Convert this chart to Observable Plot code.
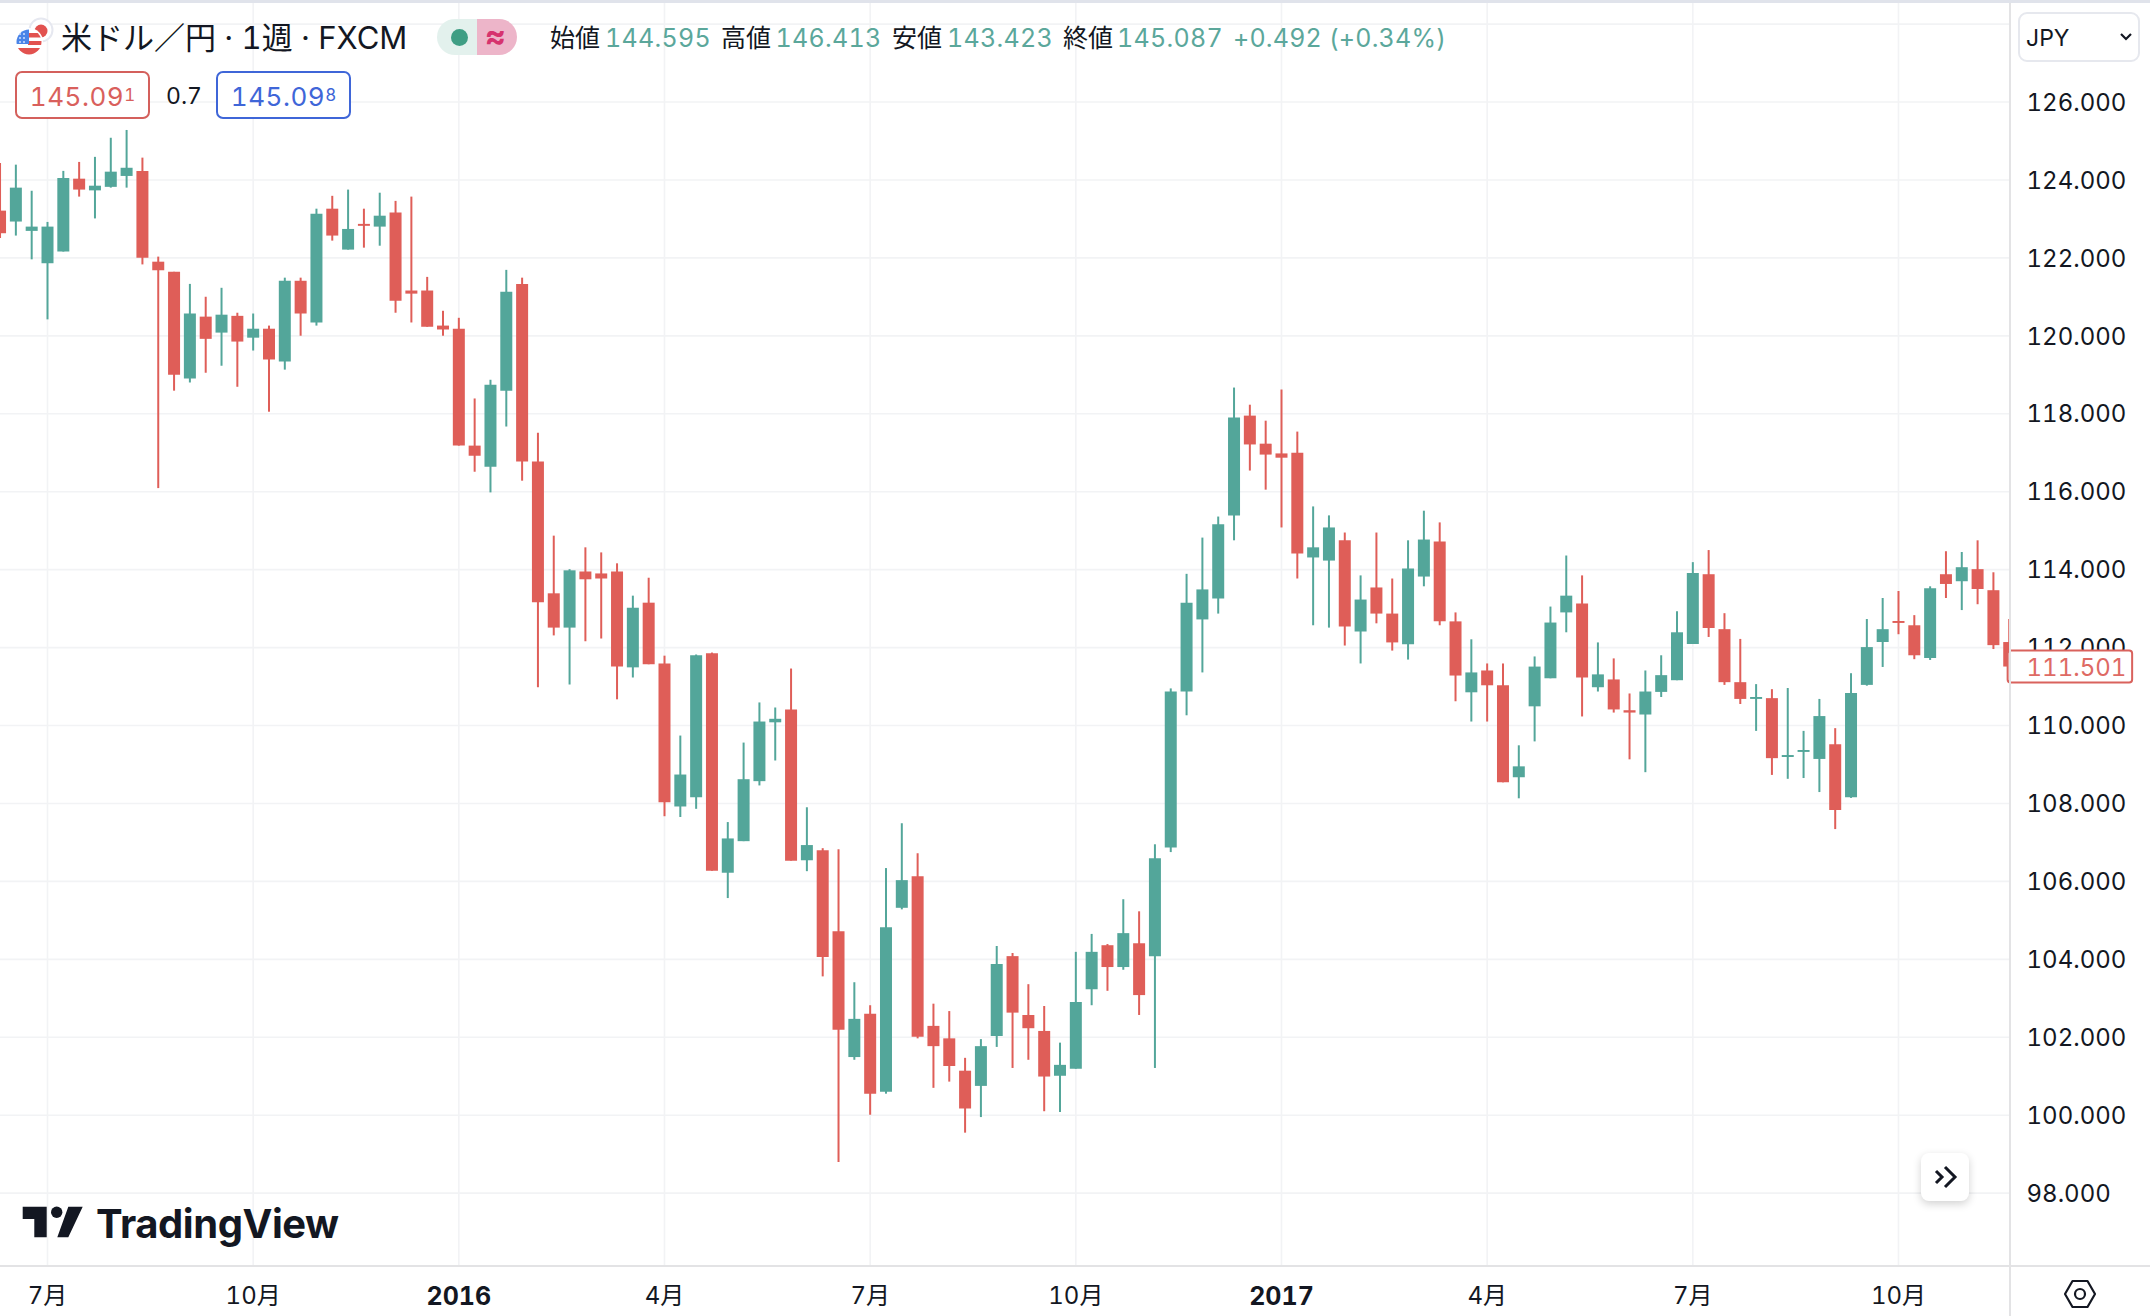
<!DOCTYPE html>
<html lang="ja">
<head>
<meta charset="utf-8">
<script src="https://cdn.jsdelivr.net/npm/d3@7"></script>
<script src="https://cdn.jsdelivr.net/npm/@observablehq/plot@0.6"></script>
<style>
html,body{margin:0;padding:0;background:#fff;width:2150px;height:1316px;overflow:hidden;font-family:Inter,"Noto Sans CJK JP",sans-serif;color:#131722;font-variant-numeric:tabular-nums}
#chart{position:absolute;left:0;top:0}
#chart svg text{font-variant-numeric:tabular-nums}
.a{position:absolute;white-space:nowrap;line-height:1}
.lab{font-size:25px;color:#131722}
.val{font-size:25px;color:#5ba79b;letter-spacing:.3px}
.chg{font-size:25px;color:#5ba79b;letter-spacing:.2px}
.box{position:absolute;box-sizing:border-box;background:#fff;border-radius:7px;border:2px solid;display:flex;align-items:center;justify-content:center;font-size:26px;letter-spacing:.5px;padding-top:2px}
.box sup{font-size:17px;line-height:0;position:relative;top:-1px;vertical-align:7px;letter-spacing:0}
</style>
</head>
<body>
<div id="chart"></div>
<script>
const tickIndex = [3, 16, 29, 42, 55, 68, 81, 94, 107, 120];
const tickLabel = ["7月", "10月", "2016", "4月", "7月", "10月", "2017", "4月", "7月", "10月"];
const priceTicks = [98, 100, 102, 104, 106, 108, 110, 112, 114, 116, 118, 120, 122, 124, 126];
const gridPrices = [...priceTicks, 128];
const lastPrice = 111.501;

const opens = [123.20,122.92,122.68,121.85,122.15,124.02,123.72,123.81,124.09,124.22,
121.89,121.63,118.89,120.48,120.07,120.50,119.94,120.17,119.33,121.40,
120.33,123.25,122.20,122.86,122.79,123.15,121.15,121.15,120.25,120.17,
117.17,116.63,118.58,121.32,116.76,113.38,112.50,113.94,113.89,113.94,
111.48,113.14,111.58,107.91,108.15,111.84,106.21,107.02,108.56,110.07,
110.40,106.53,106.79,104.71,101.48,102.59,100.59,105.31,106.12,102.28,
101.96,101.13,100.74,102.02,104.07,102.56,102.15,101.00,101.18,103.22,
104.35,103.79,104.40,104.07,106.86,110.86,112.71,113.25,115.38,117.94,
117.22,116.97,116.99,114.30,114.22,114.74,112.40,113.53,112.86,112.07,
113.81,114.71,112.66,110.84,111.40,111.02,108.66,110.48,111.20,112.89,
113.12,110.97,111.17,110.38,110.27,110.85,111.15,112.08,113.87,112.46,
111.10,110.67,110.69,109.18,109.31,109.13,109.51,108.15,111.03,112.13,
112.67,112.56,111.72,113.87,113.69,114.00,113.46,112.13];
const highs = [124.42,124.38,123.71,122.91,124.22,124.45,124.58,125.07,125.27,124.56,
122.02,121.63,121.32,120.99,121.22,120.58,120.56,120.25,121.48,121.48,
123.25,123.58,123.74,123.25,123.66,123.45,123.56,121.50,120.63,120.45,
118.38,118.86,121.68,121.48,117.50,114.86,114.00,114.56,114.43,114.15,
113.32,113.78,111.78,109.73,111.81,111.86,107.51,109.55,110.58,110.45,
111.45,107.89,106.84,106.81,103.40,102.81,106.33,107.48,106.71,102.85,
102.66,101.46,101.94,104.33,104.15,103.35,102.79,101.85,104.18,104.64,
104.38,105.53,105.22,106.94,110.94,113.88,114.81,115.35,118.66,118.22,
117.81,118.61,117.53,115.61,115.38,114.94,113.84,114.94,113.76,114.74,
115.50,115.20,112.89,112.20,111.58,111.58,109.48,111.76,113.04,114.35,
113.84,112.12,111.71,110.81,111.40,111.79,112.92,114.18,114.49,112.87,
112.21,111.05,110.92,110.95,109.85,110.67,109.92,111.33,112.72,113.26,
113.44,112.82,113.56,114.46,114.44,114.74,113.92,112.72];
const lows = [122.50,122.56,121.95,120.41,122.15,123.56,123.00,123.79,123.79,121.82,
116.08,118.58,118.79,119.04,119.22,118.68,119.61,118.04,119.12,119.99,
120.25,122.43,122.20,122.25,122.30,120.58,120.33,120.22,119.99,117.17,
116.50,115.97,117.66,116.27,110.97,112.30,111.04,112.15,112.22,110.66,
111.22,111.56,107.66,107.64,107.85,106.26,105.56,107.02,108.45,109.09,
106.52,106.25,103.55,98.79,101.41,100.00,100.54,105.27,101.96,100.69,
100.85,99.54,99.94,101.74,101.20,101.41,100.09,100.07,101.18,102.81,
103.18,103.72,102.56,101.20,106.74,110.25,111.35,112.86,114.74,116.53,
116.04,115.07,113.76,112.56,112.50,112.04,111.58,112.61,111.91,111.68,
113.56,112.56,110.61,110.09,110.09,108.53,108.12,109.58,111.20,112.38,
110.22,110.86,110.32,109.12,108.79,110.72,111.15,112.08,112.26,111.03,
110.54,109.85,108.72,108.62,108.64,108.28,107.33,108.13,111.01,111.49,
112.33,111.69,111.67,113.26,112.95,113.10,111.95,111.30];
const closes = [122.62,123.79,122.79,122.79,124.04,123.74,123.84,124.20,124.30,121.99,
121.67,118.99,120.56,119.91,120.53,119.84,120.17,119.38,121.40,120.56,
123.12,122.56,122.73,122.81,123.07,120.89,121.07,120.22,120.15,117.17,
116.91,118.73,121.12,116.76,113.15,112.50,113.97,113.74,113.76,111.50,
113.01,111.56,108.02,108.73,111.79,106.26,107.09,108.61,110.09,110.16,
106.52,106.92,104.05,102.18,102.46,100.54,104.81,106.02,102.00,101.76,
101.25,100.16,101.76,103.87,102.62,102.22,100.98,101.28,102.89,104.18,
103.79,104.66,103.07,106.58,110.86,113.14,113.48,115.15,117.89,117.20,
116.94,116.86,114.40,114.56,115.07,112.53,113.22,112.86,112.12,114.02,
114.76,112.66,111.27,111.35,111.02,108.53,108.94,111.50,112.63,113.32,
111.22,111.30,110.40,110.32,110.86,111.28,112.38,113.90,112.49,111.10,
110.67,110.72,109.15,109.23,109.36,110.23,107.82,110.82,112.00,112.46,
112.62,111.79,113.51,113.62,114.05,113.49,112.05,111.501];

const candles = opens.map((o, i) => ({i, o, h: highs[i], l: lows[i], c: closes[i], dir: closes[i] >= o ? "up" : "down"}));
const xTicks = tickIndex.map((i, k) => ({i, label: tickLabel[k], year: /^\d{4}$/.test(tickLabel[k])}));

const UP = "#53a69a", DOWN = "#df5e58", GRID = "#f2f3f5", INK = "#131722";
const last = candles.length - 1;

const chart = Plot.plot({
  width: 2150, height: 1316,
  marginTop: 0, marginBottom: 51, marginLeft: 0, marginRight: 140,
  style: {background: "#fff", fontFamily: 'Inter,"Noto Sans CJK JP",sans-serif'},
  x: {type: "linear", domain: [0.029, 127.08], range: [0, 2010], axis: null},
  y: {type: "linear", domain: [96.144, 128.605], range: [1265, 0], axis: null},
  color: {domain: ["up", "down"], range: [UP, DOWN]},
  marks: [
    Plot.ruleY(gridPrices, {stroke: GRID, strokeWidth: 1.6}),
    Plot.ruleX(tickIndex, {stroke: GRID, strokeWidth: 1.6}),
    Plot.ruleX(candles, {x: "i", y1: "l", y2: "h", stroke: "dir", strokeWidth: 2, clip: "frame"}),
    Plot.ruleX(candles, {x: "i", y1: "o", y2: "c", stroke: "dir", strokeWidth: 12, clip: "frame"}),
    Plot.text(xTicks.filter(d => !d.year), {x: "i", text: "label", frameAnchor: "bottom", dy: 38, fontSize: 24, fill: INK}),
    Plot.text(xTicks.filter(d => d.year), {x: "i", text: "label", frameAnchor: "bottom", dy: 39, fontSize: 25, fontWeight: 700, fill: INK, letterSpacing: 1.5}),
    Plot.text(priceTicks, {y: d => d, text: d => d3.format(".3f")(d), frameAnchor: "right", textAnchor: "start", dx: 16, dy: 1, fontSize: 24, fill: INK, letterSpacing: 1.6}),
    Plot.rect([lastPrice], {x1: last - 0.07, x2: last + 7.8, y1: d => d - 0.41, y2: d => d + 0.41, fill: "#fff", stroke: "#d9625d", strokeWidth: 2, rx: 3}),
    Plot.text([lastPrice], {y: d => d, text: d => d3.format(".3f")(d), frameAnchor: "right", textAnchor: "start", dx: 16, dy: 1, fontSize: 24, fill: "#de6a64", letterSpacing: 1.6})
  ]
});
document.getElementById("chart").append(chart);

function overlay(html) { document.body.insertAdjacentHTML("beforeend", html); }

// chrome: frame lines and top strip
overlay(`<div class="a" style="left:0;top:0;width:2150px;height:3px;background:#e0e3eb"></div>
<div class="a" style="left:2009px;top:3px;width:2px;height:1313px;background:#e3e3e5"></div>
<div class="a" style="left:0;top:1265px;width:2150px;height:2px;background:#e3e3e5"></div>`);

// legend header
const header = [["始値", 550, "lab"], ["144.595", 605, "val"], ["高値", 721, "lab"], ["146.413", 775.5, "val"], ["安値", 892, "lab"], ["143.423", 947, "val"], ["終値", 1063, "lab"], ["145.087", 1117, "val"], ["+0.492 (+0.34%)", 1233, "chg"]];
overlay(`<svg class="a" style="left:10px;top:15px" width="48" height="48" viewBox="10 15 48 48">
<circle cx="41" cy="30" r="11.5" fill="#fff" stroke="#e6e8f0" stroke-width="2"/><circle cx="41" cy="31" r="6.5" fill="#e2524f"/>
<clipPath id="us"><circle cx="29" cy="42" r="12.5"/></clipPath>
<circle cx="29" cy="42" r="14" fill="#fff"/>
<g clip-path="url(#us)"><rect x="16" y="29" width="26" height="26" fill="#fff"/><rect x="28" y="33" width="14" height="4.5" fill="#e2524f"/><rect x="28" y="41" width="14" height="4" fill="#e2524f"/><rect x="16" y="48" width="26" height="7" fill="#e2524f"/><rect x="16" y="29" width="13" height="15" fill="#4a84e8"/>
<g fill="#cfe0ff"><circle cx="20" cy="34" r="1"/><circle cx="24" cy="34" r="1"/><circle cx="20" cy="38" r="1"/><circle cx="24" cy="38" r="1"/><circle cx="20" cy="42" r="1"/><circle cx="24" cy="42" r="1"/></g></g></svg>
<div class="a" style="left:61px;top:22px;font-size:31px;word-spacing:0;color:#131722">米ドル／円 · 1週 · FXCM</div>
<div class="a" style="left:437px;top:19px;width:40px;height:36px;background:#e3f1ed;border-radius:18px 0 0 18px"></div>
<div class="a" style="left:477px;top:19px;width:40px;height:36px;background:#edb5c9;border-radius:0 18px 18px 0"></div>
<div class="a" style="left:451px;top:29px;width:17px;height:17px;border-radius:50%;background:#3f9e84"></div>
<div class="a" style="left:485px;top:20px;font-size:32px;font-weight:700;color:#d6336e">≈</div>`);
header.forEach(([t, x, c]) => overlay(`<div class="a ${c}" style="left:${x}px;top:26px">${t}</div>`));

// price boxes
overlay(`<div class="box" style="left:15px;top:71px;width:135px;height:48px;border-color:#d4605c;color:#d9605c">145.09<sup>1</sup></div>
<div class="a" style="left:166px;top:85px;font-size:23px;color:#131722">0.7</div>
<div class="box" style="left:216px;top:71px;width:135px;height:48px;border-color:#3f66d8;color:#3f66d8">145.09<sup>8</sup></div>`);

// currency select
overlay(`<div class="a" style="left:2018px;top:12px;width:122px;height:50px;box-sizing:border-box;border:2px solid #e6e8ee;border-radius:9px;background:#fff"></div>
<div class="a" style="left:2026px;top:27px;font-size:23px;color:#131722">JPY</div>
<svg class="a" style="left:2119px;top:31px" width="14" height="12"><path d="M2 3 L7 8 L12 3" fill="none" stroke="#131722" stroke-width="2.2"/></svg>`);

// scroll button
overlay(`<div class="a" style="left:1921px;top:1153px;width:48px;height:48px;background:#fff;border-radius:8px;box-shadow:0 3px 8px rgba(0,0,0,.18)"></div>
<svg class="a" style="left:1921px;top:1153px" width="48" height="48"><path d="M15 18 L21 24 L15 30 M24 14 L34 24 L24 34" fill="none" stroke="#131722" stroke-width="3"/></svg>`);

// settings icon
overlay(`<svg class="a" style="left:2062px;top:1278px" width="36" height="32"><path d="M10.5 3 H25.5 L33 16 L25.5 29 H10.5 L3 16 Z" fill="none" stroke="#131722" stroke-width="2.2" stroke-linejoin="round"/><circle cx="18" cy="16" r="5" fill="none" stroke="#131722" stroke-width="2.2"/></svg>`);

// logo
overlay(`<svg class="a" style="left:22px;top:1206px" width="62" height="32" viewBox="22 1206 62 32"><path d="M22.7 1206.7 H46.7 V1237.3 H34.3 V1219 H22.7 Z M68.3 1206.7 H82.7 L68.3 1237.3 H57.3 Z" fill="#131722"/><circle cx="56.7" cy="1212.3" r="5.7" fill="#131722"/></svg>
<div class="a" style="left:96px;top:1204px;font-size:40px;font-weight:700;color:#131722;letter-spacing:-.45px">TradingView</div>`);
</script>
</body>
</html>
